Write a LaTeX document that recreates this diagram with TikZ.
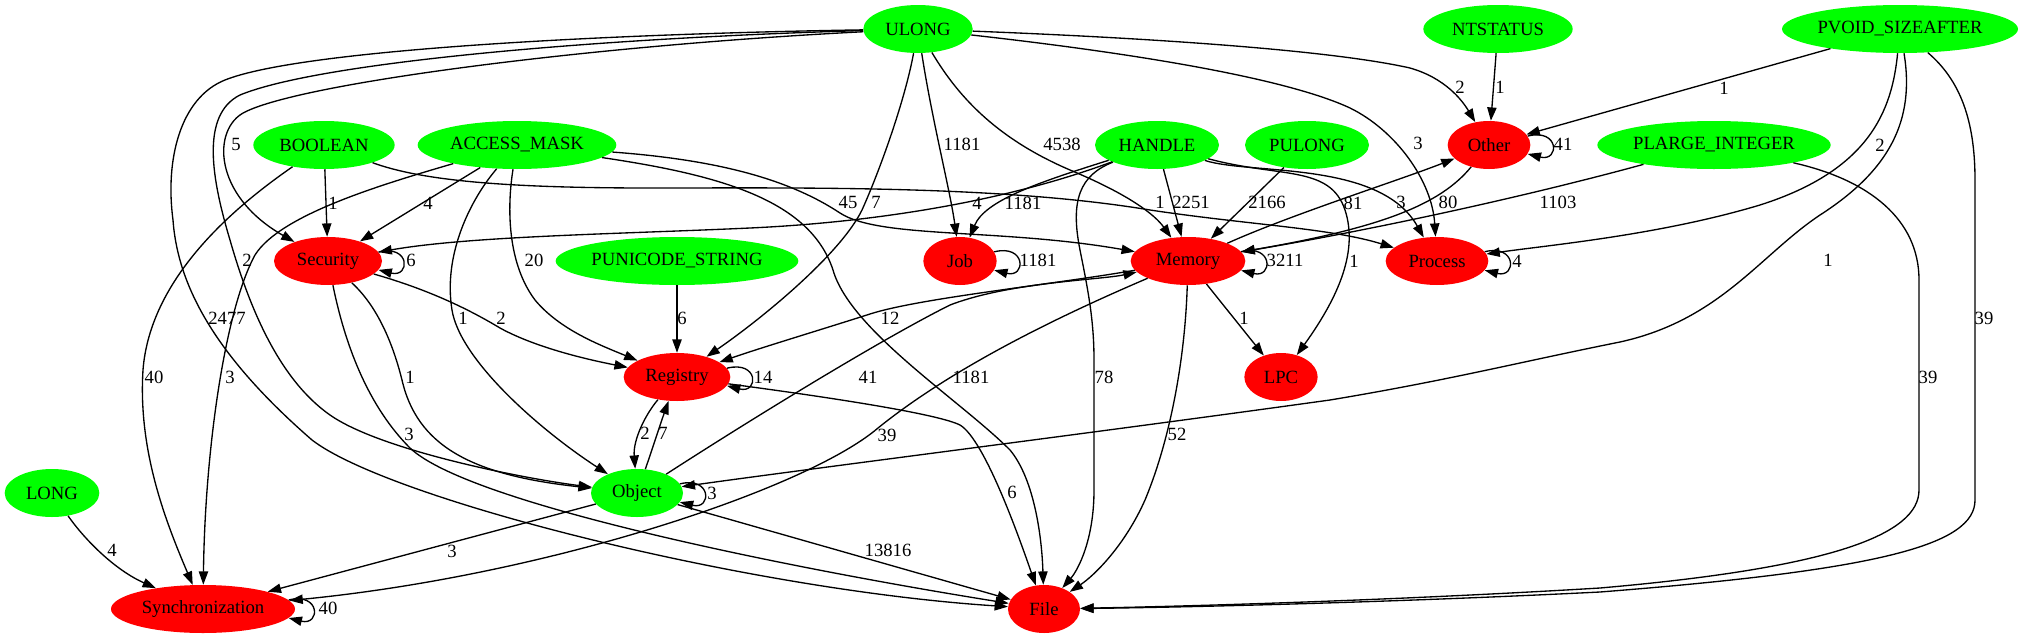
\documentclass[tikz,border=0pt]{standalone}
\usepackage{fontspec}
\setmainfont{Liberation Serif}
\usetikzlibrary{shapes.geometric,arrows.meta}

\definecolor{typgreen}{RGB}{0,255,0}
\definecolor{catred}{RGB}{255,0,0}

\tikzset{
  typ/.style={ellipse, fill=typgreen, inner sep=0pt, minimum height=36pt, minimum width=#1},
  cat/.style={ellipse, fill=catred, inner sep=0pt, minimum height=36pt, minimum width=#1},
  link/.style={line width=1pt, -{Triangle[length=10pt,width=7pt]}},
  lbl/.style={inner sep=0pt}
}

\begin{document}
\begin{tikzpicture}[x=0.75pt, y=-0.75pt, font=\fontsize{14}{16}\selectfont]
\useasboundingbox (0,0) rectangle (2023,639);

% argument types
\node[typ=82pt]  (ulong)      at (918,29)   {ULONG};
\node[typ=112pt] (ntstatus)   at (1498,29)  {NTSTATUS};
\node[typ=177pt] (pvoid)      at (1900,29)  {PVOID\_SIZEAFTER};
\node[typ=106pt] (boolean)    at (324,145)  {BOOLEAN};
\node[typ=149pt] (accessmask) at (517,145)  {ACCESS\_MASK};
\node[typ=93pt]  (handle)     at (1157,145) {HANDLE};
\node[typ=93pt]  (pulong)     at (1307,145) {PULONG};
\node[typ=175pt] (plarge)     at (1714,145) {PLARGE\_INTEGER};
\node[typ=182pt] (punicode)   at (677,261)  {PUNICODE\_STRING};
\node[typ=69pt]  (object)     at (637,493)  {Object};
\node[typ=71pt]  (long)       at (52,493)   {LONG};

% categories
\node[cat=62pt]  (other)    at (1489,145) {Other};
\node[cat=81pt]  (security) at (328,261)  {Security};
\node[cat=55pt]  (job)      at (960,261)  {Job};
\node[cat=86pt]  (memory)   at (1188,261) {Memory};
\node[cat=77pt]  (process)  at (1437,261) {Process};
\node[cat=80pt]  (registry) at (677,377)  {Registry};
\node[cat=55pt]  (lpc)      at (1281,377) {LPC};
\node[cat=138pt] (sync)     at (203,609)  {Synchronization};
\node[cat=54pt]  (file)     at (1044,609) {File};

% ULONG
\draw[link] (ulong) .. controls (600,45) and (305,82) .. (245,112) .. controls (212,128) and (212,195) .. (security) node[lbl] (l1) at (236,144) {5};
\draw[link] (ulong) .. controls (600,38) and (320,62) .. (240,95) .. controls (200,115) and (212,180) .. (230,240) .. controls (250,310) and (280,380) .. (330,415) .. controls (380,450) and (520,478) .. (object) node[lbl] (l2) at (247,260) {2};
\draw[link] (ulong) .. controls (600,34) and (300,50) .. (225,80) .. controls (180,98) and (165,160) .. (173,220) .. controls (178,290) and (220,360) .. (312,440) .. controls (390,500) and (750,590) .. (file) node[lbl] (l3) at (227,318) {2477};
\draw[link] (ulong) .. controls (905,100) and (880,170) .. (862,210) .. controls (840,255) and (760,320) .. (registry) node[lbl] (l4) at (876,202) {7};
\draw[link] (ulong) .. controls (932,120) and (950,190) .. (job) node[lbl] (l5) at (962,144) {1181};
\draw[link] (ulong) .. controls (960,100) and (1000,140) .. (1070,170) .. controls (1130,195) and (1155,215) .. (memory) node[lbl] (l6) at (1062,144) {4538};
\draw[link] (ulong) .. controls (1150,38) and (1330,50) .. (1410,68) .. controls (1445,78) and (1462,100) .. (other) node[lbl] (l7) at (1460,87) {2};
\draw[link] (ulong) .. controls (1150,55) and (1290,80) .. (1350,108) .. controls (1395,130) and (1432,180) .. (process) node[lbl] (l8) at (1418,143) {3};

% NTSTATUS, PVOID_SIZEAFTER, PLARGE_INTEGER, PULONG
\draw[link] (ntstatus) -- (other) node[lbl] (l9) at (1500,87) {1};
\draw[link] (pvoid) -- (other) node[lbl] (l10) at (1724,88) {1};
\draw[link] (pvoid) .. controls (1892,110) and (1870,170) .. (1760,205) .. controls (1660,235) and (1550,245) .. (process) node[lbl] (l11) at (1880,145) {2};
\draw[link] (pvoid) .. controls (1915,120) and (1890,170) .. (1820,215) .. controls (1760,255) and (1720,320) .. (1620,342) .. controls (1520,362) and (1450,380) .. (1330,400) .. controls (1100,432) and (800,470) .. (object) node[lbl] (l12) at (1828,260) {1};
\draw[link] (pvoid) .. controls (1960,80) and (1975,120) .. (1975,180) -- (1975,500) .. controls (1975,545) and (1880,570) .. (1600,592) .. controls (1400,602) and (1200,607) .. (file) node[lbl] (l13) at (1984,318) {39};
\draw[link] (plarge) .. controls (1870,180) and (1919,220) .. (1919,280) -- (1919,490) .. controls (1919,535) and (1830,568) .. (1600,588) .. controls (1400,600) and (1200,606) .. (file) node[lbl] (l14) at (1928,377) {39};
\draw[link] (plarge) .. controls (1550,190) and (1400,225) .. (memory) node[lbl] (l15) at (1558,202) {1103};
\draw[link] (pulong) -- (memory) node[lbl] (l16) at (1267,202) {2166};

% BOOLEAN
\draw[link] (boolean) -- (security) node[lbl] (l17) at (333,203) {1};
\draw[link] (boolean) .. controls (230,210) and (150,280) .. (143,370) .. controls (138,450) and (165,520) .. (sync) node[lbl] (l18) at (154,377) {40};
\draw[link] (boolean) .. controls (420,180) and (500,188) .. (650,188) .. controls (800,188) and (1000,185) .. (1150,210) .. controls (1250,225) and (1330,228) .. (process) node[lbl] (l19) at (1160,202) {1};

% ACCESS_MASK
\draw[link] (accessmask) -- (security) node[lbl] (l20) at (428,203) {4};
\draw[link] (accessmask) .. controls (380,185) and (280,215) .. (255,255) .. controls (225,310) and (205,450) .. (sync) node[lbl] (l21) at (230,377) {3};
\draw[link] (accessmask) .. controls (470,200) and (443,255) .. (452,310) .. controls (460,360) and (540,430) .. (object) node[lbl] (l22) at (463,318) {1};
\draw[link] (accessmask) .. controls (508,200) and (505,260) .. (535,300) .. controls (560,330) and (600,345) .. (registry) node[lbl] (l23) at (534,260) {20};
\draw[link] (accessmask) .. controls (720,160) and (790,180) .. (840,213) .. controls (880,239) and (1000,228) .. (memory) node[lbl] (l24) at (848,202) {45};
\draw[link] (accessmask) .. controls (720,175) and (810,200) .. (833,270) .. controls (850,330) and (960,400) .. (1010,450) .. controls (1035,480) and (1042,540) .. (file) node[lbl] (l25) at (971,377) {1181};

% HANDLE
\draw[link] (handle) .. controls (1010,200) and (880,222) .. (750,228) .. controls (620,234) and (470,236) .. (security) node[lbl] (l26) at (977,203) {4};
\draw[link] (handle) .. controls (1040,182) and (985,200) .. (job) node[lbl] (l27) at (1023,203) {1181};
\draw[link] (handle) -- (memory) node[lbl] (l28) at (1191,202) {2251};
\draw[link] (handle) .. controls (1080,175) and (1070,200) .. (1080,250) .. controls (1088,290) and (1094,320) .. (1094,360) -- (1094,490) .. controls (1094,540) and (1078,570) .. (file) node[lbl] (l29) at (1104,377) {78};
\draw[link] (handle) .. controls (1250,175) and (1380,160) .. (process) node[lbl] (l30) at (1401,202) {3};
\draw[link] (handle) .. controls (1280,178) and (1330,165) .. (1345,210) .. controls (1358,250) and (1340,295) .. (lpc) node[lbl] (l31) at (1354,261) {1};

% Other, Memory
\draw[link] (other) .. controls (1440,205) and (1380,228) .. (memory) node[lbl] (l32) at (1448,202) {80};
\draw[link] (memory) .. controls (1290,215) and (1400,180) .. (other) node[lbl] (l33) at (1353,203) {81};
\draw[link] (memory) .. controls (1050,285) and (920,298) .. (870,314) .. controls (820,330) and (760,348) .. (registry) node[lbl] (l34) at (890,318) {12};
\draw[link] (memory) .. controls (1050,320) and (950,370) .. (878,428) .. controls (808,488) and (550,575) .. (sync) node[lbl] (l35) at (887,435) {39};
\draw[link] (memory) -- (lpc) node[lbl] (l36) at (1244,318) {1};
\draw[link] (memory) .. controls (1185,360) and (1170,440) .. (1145,500) .. controls (1125,545) and (1095,575) .. (file) node[lbl] (l37) at (1177,434) {52};

% Security, PUNICODE_STRING, Registry
\draw[link] (security) .. controls (430,290) and (470,310) .. (500,328) .. controls (540,350) and (600,362) .. (registry) node[lbl] (l38) at (501,318) {2};
\draw[link] (security) .. controls (376,305) and (392,340) .. (402,380) .. controls (417,445) and (470,475) .. (object) node[lbl] (l39) at (410,377) {1};
\draw[link] (security) .. controls (342,330) and (362,400) .. (410,448) .. controls (470,505) and (800,570) .. (file) node[lbl] (l40) at (409,434) {3};
\draw[link] (punicode) -- (registry) node[lbl] (l41) at (682,318) {6};
\draw[link] (registry) .. controls (645,415) and (633,440) .. (object) node[lbl] (l42) at (645,433) {2};
\draw[link] (registry) .. controls (850,400) and (940,415) .. (960,425) .. controls (985,440) and (1020,540) .. (file) node[lbl] (l43) at (1012,492) {6};

% Object, LONG
\draw[link] (object) .. controls (652,450) and (660,425) .. (registry) node[lbl] (l44) at (663,433) {7};
\draw[link] (object) .. controls (750,420) and (880,340) .. (950,305) .. controls (1010,282) and (1100,280) .. (memory) node[lbl] (l45) at (868,377) {41};
\draw[link] (object) -- (sync) node[lbl] (l46) at (452,551) {3};
\draw[link] (object) -- (file) node[lbl] (l47) at (888,550) {13816};
\draw[link] (long) .. controls (85,540) and (115,570) .. (sync) node[lbl] (l48) at (112,550) {4};

% self loops
\draw[link] (security.10) .. controls +(32,-8) and +(32,8) .. (security.-10) node[lbl] (l49) at (411,260) {6};
\draw[link] (job.15) .. controls +(32,-8) and +(32,8) .. (job.-15) node[lbl] (l50) at (1038,260) {1181};
\draw[link] (memory.10) .. controls +(32,-8) and +(32,8) .. (memory.-10) node[lbl] (l51) at (1285,260) {3211};
\draw[link] (other.13) .. controls +(32,-8) and +(32,8) .. (other.-13) node[lbl] (l52) at (1563,144) {41};
\draw[link] (process.11) .. controls +(32,-8) and +(32,8) .. (process.-11) node[lbl] (l53) at (1517,261) {4};
\draw[link] (registry.10) .. controls +(32,-8) and +(32,8) .. (registry.-10) node[lbl] (l54) at (763,377) {14};
\draw[link] (object.12) .. controls +(32,-8) and +(32,8) .. (object.-12) node[lbl] (l55) at (712,493) {3};
\draw[link] (sync.6) .. controls +(32,-8) and +(32,8) .. (sync.-6) node[lbl] (l56) at (328,608) {40};
\end{tikzpicture}
\end{document}
